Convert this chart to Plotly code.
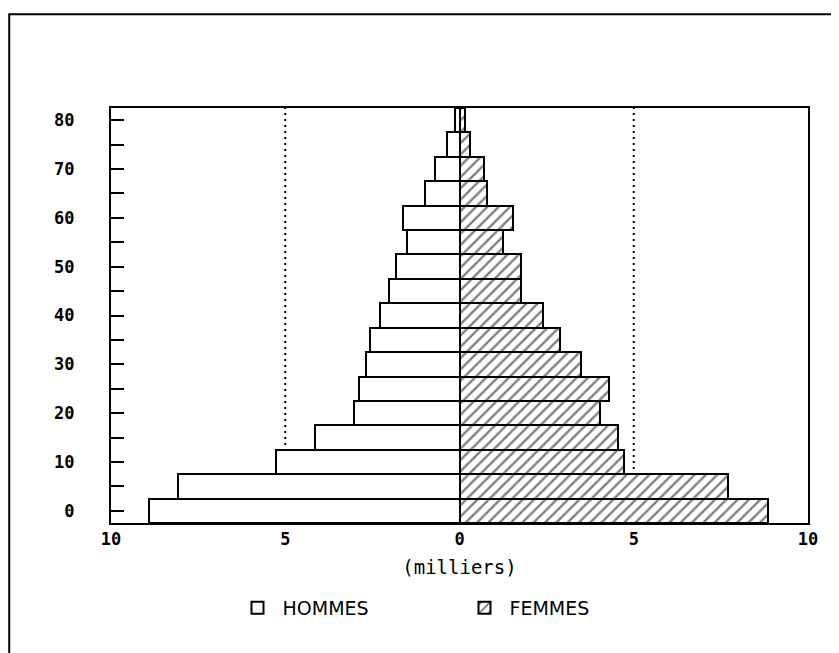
import plotly.graph_objects as go

# age groups (lower bound of each 5-year class) and population in thousands
ages = [0, 5, 10, 15, 20, 25, 30, 35, 40, 45, 50, 55, 60, 65, 70, 75, 80]
hommes = [8.90, 8.08, 5.27, 4.14, 3.02, 2.89, 2.68, 2.56, 2.28, 2.02, 1.81, 1.52, 1.62, 0.98, 0.71, 0.37, 0.13]
femmes = [8.86, 7.71, 4.72, 4.56, 4.03, 4.29, 3.48, 2.87, 2.40, 1.76, 1.77, 1.25, 1.54, 0.80, 0.70, 0.29, 0.16]

x_ticks = [-10, -5, 0, 5, 10]
x_ticktext = ["10", "5", "0", "5", "10"]
y_ticks = list(range(0, 85, 5))
y_ticktext = [str(a) if a % 10 == 0 else "" for a in y_ticks]

FONT = "DejaVu Sans Mono"

fig = go.Figure()
fig.add_trace(go.Bar(
    y=ages, x=[-v for v in hommes], orientation="h", width=5,
    name="HOMMES",
    marker=dict(color="white", line=dict(color="black", width=2)),
))
fig.add_trace(go.Bar(
    y=ages, x=femmes, orientation="h", width=5,
    name="FEMMES",
    marker=dict(color="white", line=dict(color="black", width=2),
                pattern=dict(shape="/", fgcolor="black", bgcolor="white",
                             size=8, solidity=0.3)),
))

# dotted reference lines at +/- 5 thousand
for xv in (-5, 5):
    fig.add_shape(type="line", x0=xv, x1=xv, y0=-2.5, y1=82.5,
                  xref="x", yref="y", layer="below",
                  line=dict(color="black", width=2, dash="2px,4px"))

# outer frame of the page
fig.add_shape(type="rect", xref="paper", yref="paper",
              x0=-0.146, x1=1.2, y0=1.226, y1=-0.5,
              line=dict(color="black", width=2), layer="above")

fig.update_xaxes(
    range=[-10, 10], tickvals=x_ticks, ticktext=x_ticktext,
    showgrid=False, zeroline=False, ticks="",
    showline=True, mirror=True, linecolor="black", linewidth=2,
    tickfont=dict(family=FONT, size=17, color="black", weight="bold"),
    title=dict(text="(milliers)", font=dict(family=FONT, size=19, color="black"), standoff=12),
)
fig.update_yaxes(
    range=[-2.5, 82.5], tickvals=y_ticks, ticktext=y_ticktext,
    showgrid=False, zeroline=False, ticks="inside", ticklen=13, tickwidth=2, tickcolor="black",
    showline=True, mirror=True, linecolor="black", linewidth=2,
    tickfont=dict(family=FONT, size=17, color="black", weight="bold"),
    ticklabelstandoff=31,
)

fig.update_layout(
    width=831, height=645,
    margin=dict(l=103, r=31, t=100, b=130),
    plot_bgcolor="white", paper_bgcolor="white",
    barmode="overlay", bargap=0,
    showlegend=True,
    legend=dict(orientation="h", x=0.5, xanchor="center", y=-0.159, yanchor="top",
                font=dict(family="DejaVu Sans", size=19, color="black"),
                itemwidth=40, entrywidthmode="pixels", entrywidth=172),
)

fig.write_html("out.html")
